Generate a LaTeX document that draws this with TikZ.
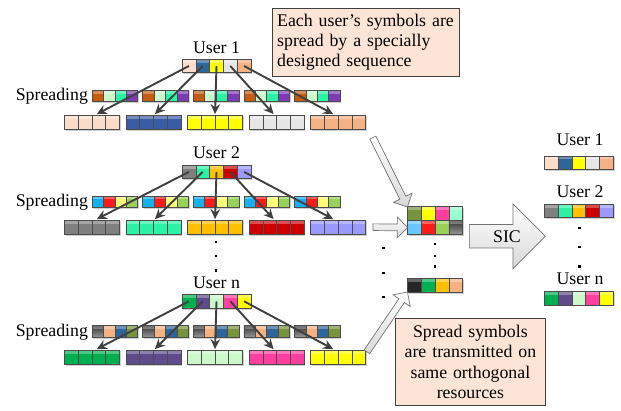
\documentclass[tikz,border=0pt]{standalone}
\usepackage{fontspec}
\setmainfont{Liberation Serif}
\usetikzlibrary{shapes.arrows,arrows.meta,shadows,calc}
\definecolor{pch}{HTML}{FADCC8}
\definecolor{stb}{HTML}{2F6699}
\definecolor{bl2}{HTML}{3A5BA5}
\definecolor{yel}{HTML}{FFFF00}
\definecolor{lgy}{HTML}{E6E6E6}
\definecolor{tan}{HTML}{F4B183}
\definecolor{brn}{HTML}{C55A11}
\definecolor{mnt}{HTML}{CCF8CC}
\definecolor{spg}{HTML}{2CF2A6}
\definecolor{prp}{HTML}{7D3AB5}
\definecolor{gry}{HTML}{7F7F7F}
\definecolor{amb}{HTML}{FFC000}
\definecolor{drd}{HTML}{CC0000}
\definecolor{lav}{HTML}{9999FF}
\definecolor{sky}{HTML}{14B0F0}
\definecolor{rd}{HTML}{FF1A1A}
\definecolor{lye}{HTML}{FFFF7A}
\definecolor{lgn}{HTML}{99D05A}
\definecolor{grn}{HTML}{00B050}
\definecolor{dpp}{HTML}{5F4B8B}
\definecolor{pnk}{HTML}{FF3FA0}
\definecolor{olv}{HTML}{77933C}
\definecolor{aqu}{HTML}{99FFCC}
\definecolor{skb}{HTML}{66C8FF}
\definecolor{blk}{HTML}{262626}
\definecolor{note}{HTML}{FCE4D6}
\tikzset{
  cellfill/.code={\edef\tmpa{#1}\def\tmpb{grad}\ifx\tmpa\tmpb\pgfkeysalso{top color=black!80,bottom color=black!40}\else\pgfkeysalso{fill=#1}\fi},
  cell/.style={draw=black!70, line width=0.6pt, inner sep=0pt, outer sep=0pt,
    drop shadow={shadow xshift=1.3pt, shadow yshift=-1.3pt, fill=black!18, opacity=1},
    path picture={\fill[white,opacity=0.3] (path picture bounding box.north west) rectangle ([yshift=-3.5pt]path picture bounding box.north east);}},
  conn/.style={draw=black!75, line width=1.9pt, -{Stealth[length=10pt,width=9.5pt]}},
  harrow/.style={single arrow, draw=black!55, line width=0.7pt, top color=white, bottom color=black!15,
    inner xsep=0pt, inner ysep=3pt, single arrow head extend=7pt},
  callout/.style={draw=black!75, line width=0.8pt, fill=note, inner xsep=4.5pt},
  lab/.style={anchor=base}
}
\newcommand\cellrow[6]{\foreach \cc [count=\ii] in {#6} {\node[cell, cellfill=\cc, minimum width=#4pt, minimum height=#5pt] (#1-\ii) at ({#2+(\ii-0.5)*#4}, #3) {};}}
\newcommand\hollowarrow[4][]{\path let \p1=(#3), \p2=(#4), \n1={atan2(\y2-\y1,\x2-\x1)}, \n2={veclen(\x2-\x1,\y2-\y1)} in node[harrow, #1, minimum height=\n2, rotate=\n1, anchor=tail] (#2) at (\p1) {};}
\begin{document}
\begin{tikzpicture}[x=1pt,y=-1pt, every node/.style={font=\fontsize{17.8}{20.3}\selectfont}]
\fill[white] (0,0) rectangle (621,411);
\useasboundingbox (0,0) rectangle (621,411);

% ---------- User 1
\node[lab] (l1) at (216.5,53.3) {User 1};
\cellrow{u1}{182}{66}{13.8}{13.4}{pch,stb,yel,lgy,tan}
\node[anchor=base east] (sp1) at (91.5,101) {Spreading};
\foreach \g [count=\k] in {92,142.6,193.2,243.8,294.4} {\cellrow{s1\k}{\g}{95.9}{11.4}{11.7}{brn,mnt,spg,prp}}
\foreach \g/\c [count=\k] in {64.3/pch,125.9/bl2,187.5/yel,249.1/lgy,310.7/tan} {\cellrow{b1\k}{\g}{122.2}{13.75}{14.2}{\c,\c,\c,\c}}

% ---------- User 2
\node[lab] (l2) at (216.5,159) {User 2};
\cellrow{u2}{182}{171.9}{13.8}{13.6}{gry,spg,amb,drd,lav}
\node[anchor=base east] (sp2) at (91.5,206.5) {Spreading};
\foreach \g [count=\k] in {92,142.6,193.2,243.8,294.4} {\cellrow{s2\k}{\g}{201.7}{11.4}{11.7}{sky,rd,lye,lgn}}
\foreach \g/\c [count=\k] in {64.3/gry,125.9/spg,187.5/amb,249.1/drd,310.7/lav} {\cellrow{b2\k}{\g}{227.2}{13.75}{14.2}{\c,\c,\c,\c}}

% ---------- User n
\node[lab] (ln) at (216.5,289) {User n};
\cellrow{un}{182}{301.3}{13.8}{14}{grn,dpp,mnt,pnk,yel}
\node[anchor=base east] (spn) at (91.5,336.5) {Spreading};
\foreach \g [count=\k] in {92,142.6,193.2,243.8,294.4} {\cellrow{sn\k}{\g}{331.5}{11.4}{11.7}{grad,tan,stb,olv}}
\foreach \g/\c [count=\k] in {64.3/grn,125.9/dpp,187.5/mnt,249.1/pnk,310.7/yel} {\cellrow{bn\k}{\g}{357.2}{13.75}{14.2}{\c,\c,\c,\c}}

% spreading arrows
\foreach \u in {1,2,n} {\foreach \k/\dx in {1/5,2/1.5,3/0,4/-3,5/-5} {\draw[conn] (u\u-\k.center) -- ([xshift=\dx pt, yshift=1pt]b\u\k-2.north east);}}

% dots
\foreach \px/\py in {216/242,216/256,216/270.5, 435/244.3,435/256,435/266.7, 383.3/248.3,383.3/273.3,383.3/297.3, 579.3/228.3,579.3/247.3,579.3/266.7}
  {\fill[black] (\px-1.2,\py-1.2) rectangle (\px+1.2,\py+1.2);}

% ---------- superposed block
\cellrow{m1}{407.3}{213.7}{13.85}{14}{olv,yel,pnk,aqu}
\cellrow{m2}{407.3}{227.5}{13.85}{13.6}{skb,rd,lgn,grad}
\cellrow{mn}{407.3}{285.3}{13.85}{14}{blk,grn,amb,tan}

\hollowarrow{ha1}{$(b15-4.south east)+(7,8)$}{m1-1.north west}
\hollowarrow{ha2}{$(b25-4.east)+(7,0)$}{m2-1.west}
\hollowarrow{ha3}{$(bn5-4.north east)+(1,2)$}{mn-1.south west}

% ---------- SIC
\coordinate (sicA) at (469,236.3);
\coordinate (sicB) at (545,236.3);
\hollowarrow[inner ysep=11.35pt, single arrow head extend=20.7pt]{sic}{sicA}{sicB}
\node (sictxt) at (507,237) {SIC};

% ---------- decoded users
\node[lab] (rl1) at (580,146) {User 1};
\cellrow{r1}{544.3}{162.7}{13.8}{13.4}{pch,stb,yel,lgy,tan}
\node[lab] (rl2) at (580,197.3) {User 2};
\cellrow{r2}{544.3}{210.9}{13.8}{13.6}{gry,spg,amb,drd,lav}
\node[lab] (rln) at (580,284.3) {User n};
\cellrow{rn}{544.3}{298.4}{13.8}{13.4}{grn,dpp,mnt,pnk,yel}

% ---------- callouts
\node[callout, anchor=north west, minimum width=187pt, minimum height=68.5pt, text width=178pt, align=left] (note1) at (272.3,7.7)
  {Each user’s symbols are\\ spread by a specially\\ designed sequence};
\node[callout, anchor=north west, minimum width=150pt, minimum height=87pt, text width=141pt, align=center] (note2) at (395,318)
  {Spread symbols\\ are transmitted on\\ same orthogonal\\ resources};
\end{tikzpicture}
\end{document}
